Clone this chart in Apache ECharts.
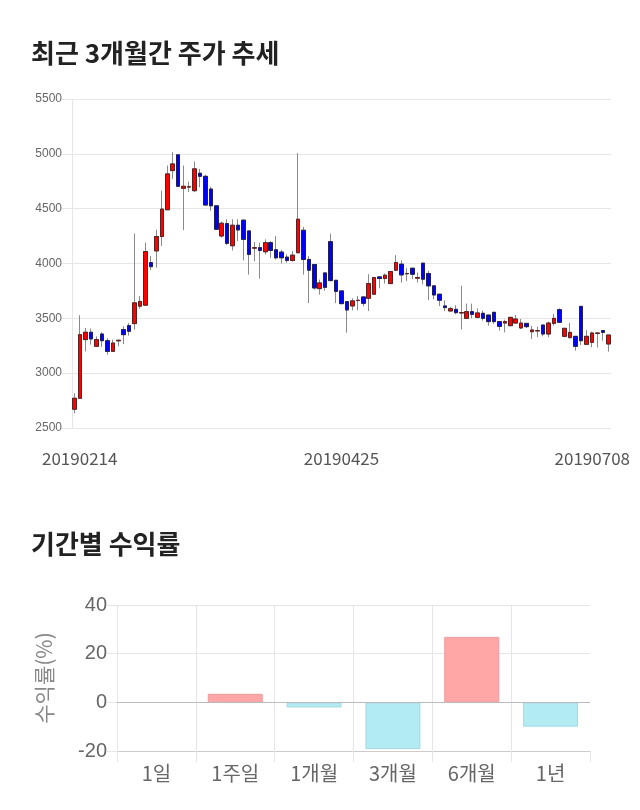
<!DOCTYPE html>
<html>
<head>
<meta charset="utf-8">
<script src="https://cdn.jsdelivr.net/npm/echarts@6/dist/echarts.min.js"></script>
<style>
html,body{margin:0;padding:0;background:#fff;}
#c{width:640px;height:810px;}
</style>
</head>
<body>
<div id="c"></div>
<script>
// ---- candlestick data ----
const dates = [
'20190214','20190215','20190218','20190219','20190220','20190221','20190222','20190225','20190226','20190227','20190228',
'20190304','20190305','20190306','20190307','20190308','20190311','20190312','20190313','20190314','20190315',
'20190318','20190319','20190320','20190321','20190322','20190325','20190326','20190327','20190328','20190329',
'20190401','20190402','20190403','20190404','20190405','20190408','20190409','20190410','20190411','20190412',
'20190415','20190416','20190417','20190418','20190419','20190422','20190423','20190424','20190425','20190426',
'20190429','20190430',
'20190502','20190503','20190507','20190508','20190509','20190510','20190513','20190514','20190515','20190516','20190517',
'20190520','20190521','20190522','20190523','20190524','20190527','20190528','20190529','20190530','20190531',
'20190603','20190604','20190605','20190607','20190610','20190611','20190612','20190613','20190614',
'20190617','20190618','20190619','20190620','20190621','20190624','20190625','20190626','20190627','20190628',
'20190701','20190702','20190703','20190704','20190705','20190708'
];
const openV = [2671,2771,3306,3373,3245,3357,3296,3199,3295,3397,3434,3452,3611,3620,4008,4115,4246,4490,4847,4991,
4686,4697,4664,4823,4795,4679,4526,4251,4364,4162,4349,4395,4297,4140,4144,4107,4190,4125,4104,4058,
4028,4098,4303,4037,3991,3771,3914,4199,3847,3750,3652,3613,3662,3695,3683,3720,3878,3863,3817,3939,
3994,3906,3957,3866,4003,3909,3796,3720,3613,3567,3582,3549,3500,3561,3509,3546,3530,3555,3470,3457,
3433,3457,3412,3454,3378,3385,3439,3357,3454,3579,3336,3324,3336,3609,3263,3281,3363,3388,3266];
const closeV = [2771,3351,3373,3312,3306,3296,3199,3275,3300,3351,3382,3641,3654,4109,3971,4246,4496,4817,4908,4704,
4704,4700,4863,4795,4533,4526,4312,4367,4184,4349,4306,4220,4083,4144,4119,4190,4119,4052,4052,4028,
4076,4404,4037,3939,3777,3823,3783,3844,3746,3634,3576,3659,3665,3637,3817,3872,3863,3893,3927,4009,
3896,3909,3902,3872,3857,3796,3713,3665,3598,3588,3552,3552,3561,3537,3549,3500,3470,3470,3427,3470,
3509,3494,3457,3424,3394,3388,3357,3457,3500,3464,3409,3372,3245,3296,3336,3366,3366,3372,3348];
const lowV = [2634,2771,3199,3260,3239,3239,3168,3199,3245,3266,3342,3397,3587,3620,3941,3962,4160,4490,4771,4704,
4304,4652,4650,4695,4533,4480,4312,4236,4168,4119,4205,4028,3899,4021,3862,4083,4052,4037,4000,4006,
4018,4098,3899,3639,3762,3716,3752,3838,3639,3628,3369,3573,3573,3610,3567,3714,3774,3817,3811,3933,
3826,3841,3857,3826,3811,3665,3674,3613,3567,3564,3537,3399,3500,3500,3500,3479,3433,3449,3388,3372,
3433,3450,3403,3412,3312,3327,3336,3327,3433,3464,3327,3318,3205,3257,3257,3235,3235,3296,3196];
const highV = [2817,3528,3412,3406,3336,3373,3321,3306,3306,3428,3458,4273,3703,4191,4069,4307,4664,4893,5015,4991,
4893,4745,4930,4863,4810,4700,4526,4382,4404,4404,4404,4404,4297,4196,4190,4220,4205,4251,4125,4083,
4113,5006,4333,4067,3991,3853,3914,4272,3847,3750,3652,3683,3704,3704,3902,3872,3878,3909,3927,4076,
4030,3957,3957,3918,4003,3933,3796,3720,3665,3604,3619,3796,3634,3634,3591,3570,3530,3555,3470,3488,
3509,3530,3494,3454,3433,3424,3439,3470,3540,3591,3409,3457,3336,3609,3394,3378,3372,3388,3348];
const priceTicks = {min: 2500, max: 5500, interval: 500};
const dateLabelIdx = [0, 49, 98];

// ---- return bars ----
const periods = ['1일','1주일','1개월','3개월','6개월','1년'];
const returns = [0, 3.5, -2.1, -19.2, 26.9, -10.0];

const ohlc = dates.map((d,i)=>[openV[i], closeV[i], lowV[i], highV[i]]);
const bodies = dates.map((d,i)=>{
  const lo = Math.min(openV[i], closeV[i]), hi = Math.max(openV[i], closeV[i]);
  return [openV[i], closeV[i], lo, hi];
});

const chart = echarts.init(document.getElementById('c'), null, {renderer:'canvas'});
const kfont = "'Noto Sans CJK KR','Noto Sans',sans-serif";
const option = {
  animation: false,
  backgroundColor: '#fff',
  title: [
    {text:'최근 3개월간 주가 추세', left: 26, top: 35, textStyle:{fontSize:26, fontWeight:'bold', color:'#222', fontFamily:kfont}},
    {text:'기간별 수익률', left: 26, top: 526, textStyle:{fontSize:26, fontWeight:'bold', color:'#222', fontFamily:kfont}}
  ],
  grid: [
    {left: 72, right: 29, top: 99, bottom: 382},
    {left: 117, right: 50, top: 605, bottom: 59}
  ],
  xAxis: [
    {
      type:'category', gridIndex:0, data: dates, boundaryGap: true,
      axisLine:{show:false}, axisTick:{show:false}, splitLine:{show:false},
      axisLabel:{
        interval: (idx)=>dateLabelIdx.indexOf(idx) >= 0,
        margin: 22, color:'#555', fontSize:17, fontFamily:kfont,
        formatter: (v, i)=> i===0 ? '{a|'+v+'}' : (i===dates.length-1 ? '{c|'+v+'}' : '{b|'+v+'}'),
        rich:{
          a:{padding:[0,0,0,10], color:'#555', fontSize:17, fontFamily:kfont},
          b:{color:'#555', fontSize:17, fontFamily:kfont},
          c:{padding:[0,32,0,0], color:'#555', fontSize:17, fontFamily:kfont}
        }
      }
    },
    {
      type:'category', gridIndex:1, data: periods, boundaryGap: true,
      axisLine:{show:true, onZero:false, lineStyle:{color:'#cccccc'}},
      axisTick:{show:true, length:11, lineStyle:{color:'#e6e6e6'}},
      splitLine:{show:true, showMaxLine:false, lineStyle:{color:'#e6e6e6'}},
      axisLabel:{margin:12, color:'#666', fontSize:20, fontFamily:kfont}
    }
  ],
  yAxis: [
    {
      type:'value', gridIndex:0, min: priceTicks.min, max: priceTicks.max, interval: priceTicks.interval,
      axisLine:{show:true, lineStyle:{color:'#e6e6e6'}},
      axisTick:{show:true, length:10, lineStyle:{color:'#e6e6e6'}},
      splitLine:{show:true, lineStyle:{color:'#e6e6e6'}},
      axisLabel:{margin:10, color:'#666', fontSize:12, fontFamily:"'Liberation Sans',Arial,sans-serif", formatter:(v)=>String(v)}
    },
    {
      type:'value', gridIndex:1, min:-20, max:40, interval:20,
      name:'수익률(%)', nameLocation:'middle', nameRotate:90, nameGap:62,
      nameTextStyle:{color:'#888', fontSize:21, fontFamily:kfont},
      axisLine:{show:false},
      axisTick:{show:true, length:10, lineStyle:{color:'#e6e6e6'}},
      splitLine:{show:true, lineStyle:{color:'#e6e6e6'}},
      axisLabel:{margin:10, color:'#666', fontSize:20, fontFamily:"'Liberation Sans',Arial,sans-serif", formatter:(v)=>String(v)}
    }
  ],
  series: [
    {
      type:'candlestick', xAxisIndex:0, yAxisIndex:0, data: ohlc, barWidth:'75%',
      itemStyle:{color:'#ff0000', color0:'#0000ff', borderColor:'#8a8a8a', borderColor0:'#8a8a8a', borderWidth:1}
    },
    {
      type:'candlestick', xAxisIndex:0, yAxisIndex:0, data: bodies, barWidth:'75%',
      itemStyle:{color:'#ff0000', color0:'#0000ff', borderColor:'#5a2020', borderColor0:'#202050', borderWidth:1}
    },
    {
      type:'bar', xAxisIndex:1, yAxisIndex:1, barWidth:55,
      data: returns.map(v=>({value:v, itemStyle: v===0 ? {borderWidth:0, color:'rgba(0,0,0,0)'} : (v>0 ? {color:'#ffa6a6', borderColor:'#f09a9a', borderWidth:1} : {color:'#b3ebf3', borderColor:'#a2d9e2', borderWidth:1})})),
      markLine:{silent:true, symbol:'none', label:{show:false}, lineStyle:{color:'#bbbbbb', type:'solid', width:1}, data:[{yAxis:0}]}
    }
  ]
};
chart.setOption(option);
</script>
</body>
</html>
